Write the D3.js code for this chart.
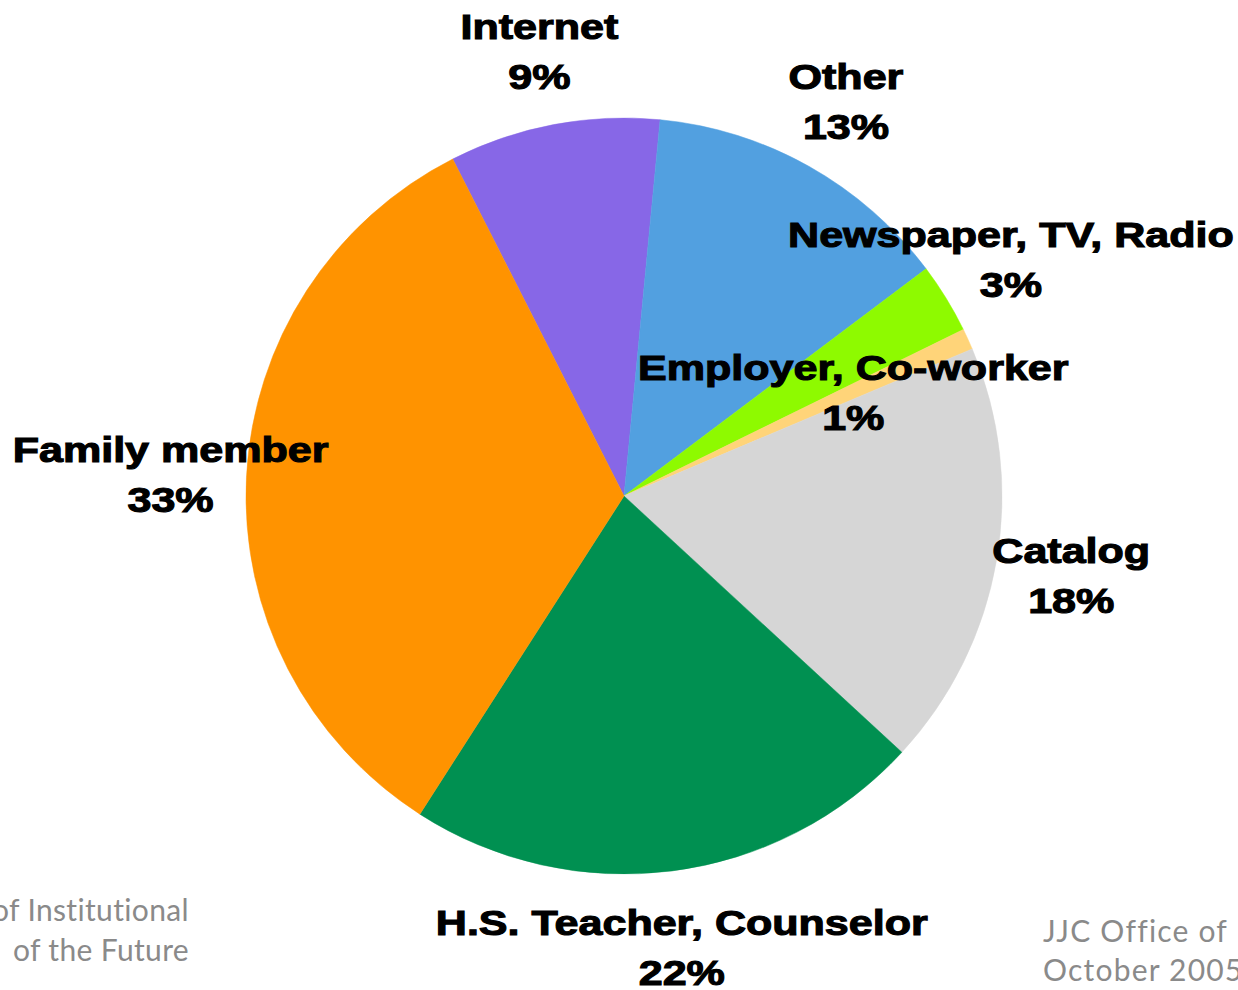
<!DOCTYPE html>
<html>
<head>
<meta charset="utf-8">
<script src="https://cdn.jsdelivr.net/npm/d3@7"></script>
<style>
  body { margin: 0; background: #fff; }
  svg { display: block; }
</style>
</head>
<body>
<div id="chart"></div>
<script>
/* Data */
const categories = ["Internet", "Other", "Newspaper, TV, Radio", "Employer, Co-worker",
                    "Catalog", "H.S. Teacher, Counselor", "Family member"];
const shares = [9.0, 13.2, 3.0, 0.9, 18.2, 22.2, 33.4];   // percent
const percentLabels = ["9%", "13%", "3%", "1%", "18%", "22%", "33%"];
const sliceColors = ["#8767E7", "#52A0E0", "#8EFA00", "#FFD479", "#D6D6D6", "#009051", "#FF9300"];
const footerLeft = ["of Institutional", "of the Future"];
const footerRight = ["JJC Office of", "October 2005"];

/* Dimensions */
const width = 1238;
const height = 990;
const cx = 624, cy = 496;
const radius = 378;

const svg = d3.select("#chart")
  .append("svg")
  .attr("width", width)
  .attr("height", height);

const rows = categories.map((c, i) => ({ name: c, value: shares[i], label: percentLabels[i], color: sliceColors[i] }));

// first slice starts a bit left of 12 o'clock
const start = -26.95 * Math.PI / 180;
const pie = d3.pie()
  .sort(null)
  .value(d => d.value)
  .startAngle(start)
  .endAngle(start + 2 * Math.PI);

const arc = d3.arc().innerRadius(0).outerRadius(radius);

const g = svg.append("g").attr("transform", `translate(${cx},${cy})`);

g.selectAll(".slice")
  .data(pie(rows))
  .enter()
  .append("path")
  .attr("class", "slice")
  .attr("d", arc)
  .attr("fill", d => d.data.color)
  .attr("stroke", d => d.data.color)
  .attr("stroke-width", 0.5);

/* Labels */
// most labels sit outside the pie, the tiny slice is labelled inside
const labelRadius = d => d.data.name === "Employer, Co-worker" ? 252 : 454;

const labels = g.selectAll(".label")
  .data(pie(rows))
  .enter()
  .append("text")
  .attr("class", "label")
  .attr("transform", d => {
    const a = (d.startAngle + d.endAngle) / 2;
    const r = labelRadius(d);
    return `translate(${r * Math.sin(a)},${-r * Math.cos(a)}) scale(1.23,1)`;
  })
  .attr("text-anchor", "middle")
  .style("font-family", "'Liberation Sans', Arial, sans-serif")
  .style("font-weight", "bold")
  .style("font-size", "35px")
  .style("fill", "#000")
  .style("stroke", "#000")
  .style("stroke-width", "1.1px");

labels.append("tspan").attr("x", 0).attr("y", -11).text(d => d.data.name);
labels.append("tspan").attr("x", 0).attr("y", 39).text(d => d.data.label);

/* Footer (cut off at the page edges) */
const footStyle = sel => sel
  .style("font-family", "Lato, 'Open Sans', sans-serif")
  .style("font-size", "30px")
  .style("fill", "#8a8a8a");

svg.selectAll(".footL")
  .data(footerLeft)
  .enter()
  .append("text")
  .attr("class", "footL")
  .attr("x", 189)
  .attr("y", (d, i) => 921 + i * 40)
  .attr("text-anchor", "end")
  .text(d => d)
  .call(footStyle)
  .style("letter-spacing", "0.35px");

svg.selectAll(".footR")
  .data(footerRight)
  .enter()
  .append("text")
  .attr("class", "footR")
  .attr("x", 1043)
  .attr("y", (d, i) => 942 + i * 39)
  .attr("text-anchor", "start")
  .text(d => d)
  .call(footStyle)
  .style("letter-spacing", "1.2px");
</script>
</body>
</html>
